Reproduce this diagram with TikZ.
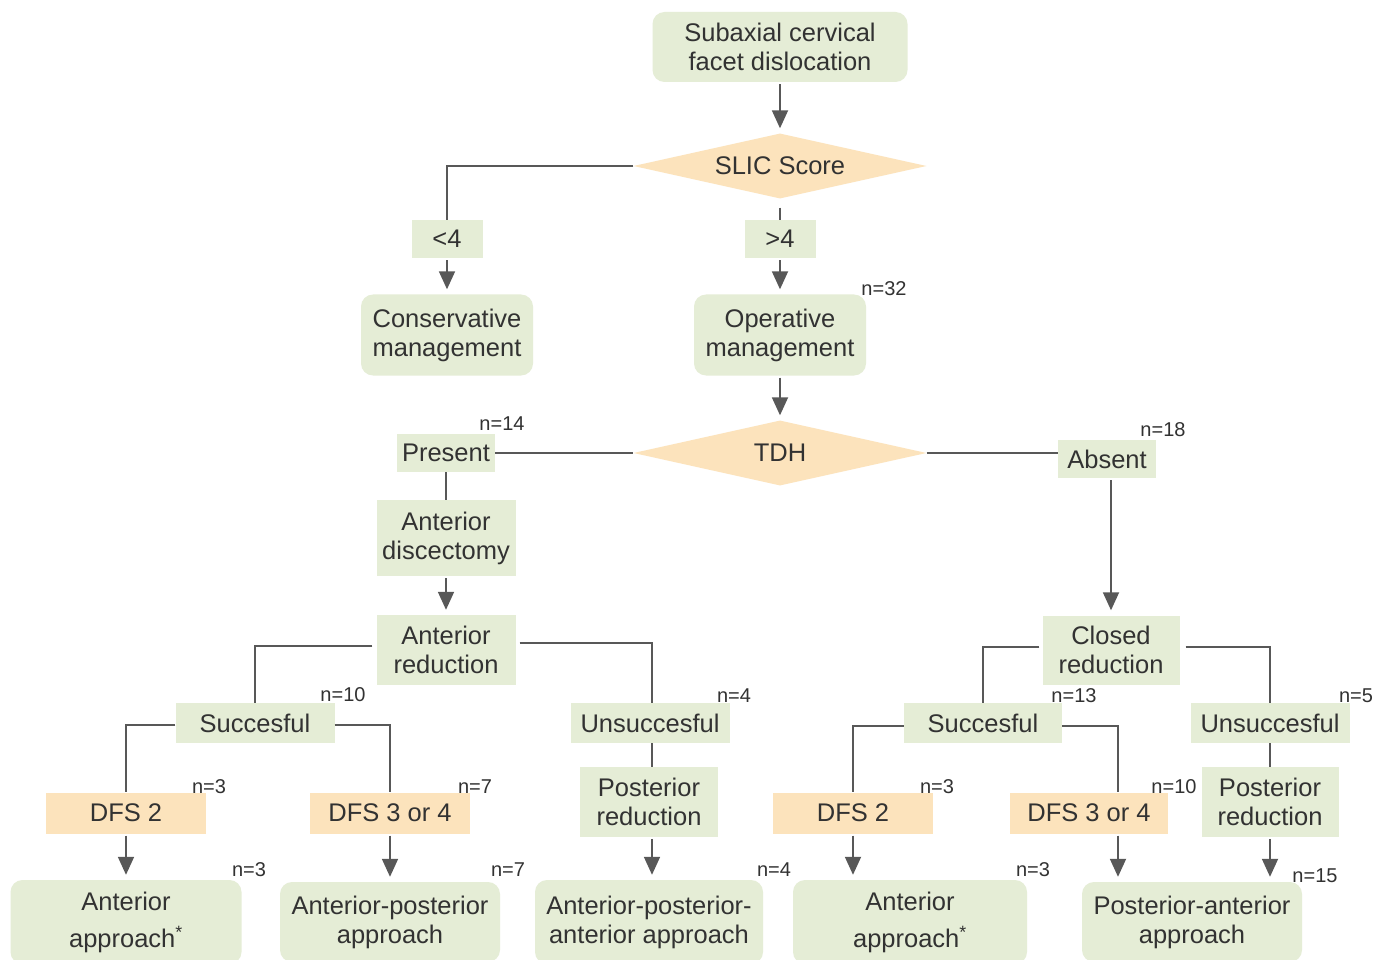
\documentclass[tikz,border=0pt]{standalone}
\usepackage{fontspec}
\setmainfont{Liberation Sans}
\usetikzlibrary{shapes.geometric,arrows.meta}
\definecolor{boxgreen}{RGB}{229,237,214}
\definecolor{peach}{RGB}{252,227,188}
\definecolor{txt}{RGB}{50,50,50}
\definecolor{ln}{RGB}{88,88,88}
\begin{document}
\begin{tikzpicture}[x=1pt,y=-1pt,
  every node/.style={text=txt, font=\fontsize{25.5}{29}\selectfont, align=center, inner sep=0pt},
  rbox/.style={fill=boxgreen, rounded corners=12pt},
  sbox/.style={fill=boxgreen},
  obox/.style={fill=peach, minimum width=160pt, minimum height=41pt},
  dia/.style={diamond, fill=peach, minimum width=293pt, minimum height=65pt, inner sep=0pt, aspect=4.5},
  nlab/.style={font=\fontsize{20}{22}\selectfont},
  conn/.style={draw=ln, line width=1.8pt},
  arr/.style={conn, -{Triangle[width=16pt,length=18pt]}, shorten >=5pt, shorten <=2pt}]
\useasboundingbox (0,0) rectangle (1385,960);
\clip (0,0) rectangle (1385,960);
\fill[white] (0,0) rectangle (1385,960);

% nodes
\node[rbox, minimum width=255pt, minimum height=70pt] (sub) at (780,47) {Subaxial cervical\\facet dislocation};
\node[dia] (slic) at (780,166) {SLIC Score};
\node[sbox, minimum width=71pt, minimum height=38pt] (lt) at (447,239) {<4};
\node[sbox, minimum width=71pt, minimum height=38pt] (gt) at (780,239) {>4};
\node[rbox, minimum width=172pt, minimum height=81pt] (cons) at (447,335) {Conservative\\management};
\node[rbox, minimum width=172pt, minimum height=81pt] (oper) at (780,335) {Operative\\management};
\node[nlab] (n32) at (884,289) {n=32};
\node[dia] (tdh) at (780,453) {TDH};
\node[sbox, minimum width=98pt, minimum height=38pt] (pres) at (446,453) {Present};
\node[nlab] (n14) at (502,424) {n=14};
\node[sbox, minimum width=98pt, minimum height=38pt] (abs) at (1107,459) {Absent};
\node[nlab] (n18) at (1163,430) {n=18};
\node[sbox, minimum width=139pt, minimum height=76pt] (adisc) at (446,538) {Anterior\\discectomy};
\node[sbox, minimum width=139pt, minimum height=70pt] (ared) at (446,650) {Anterior\\reduction};
\node[sbox, minimum width=137pt, minimum height=69pt] (cred) at (1111,650) {Closed\\reduction};

\node[sbox, minimum width=159pt, minimum height=40pt] (succL) at (255,723) {Succesful};
\node[nlab] (n10a) at (343,695) {n=10};
\node[sbox, minimum width=159pt, minimum height=40pt] (unsL) at (650,723) {Unsuccesful};
\node[nlab] (n4a) at (734,696) {n=4};
\node[sbox, minimum width=158pt, minimum height=40pt] (succR) at (983,723) {Succesful};
\node[nlab] (n13) at (1074,696) {n=13};
\node[sbox, minimum width=159pt, minimum height=40pt] (unsR) at (1270,723) {Unsuccesful};
\node[nlab] (n5) at (1356,696) {n=5};

\node[obox] (dfs2L) at (126,813) {DFS 2};
\node[nlab] (n3a) at (209,787) {n=3};
\node[obox] (dfs3L) at (390,813) {DFS 3 or 4};
\node[nlab] (n7a) at (475,787) {n=7};
\node[sbox, minimum width=138pt, minimum height=70pt] (postL) at (649,802) {Posterior\\reduction};
\node[obox] (dfs2R) at (853,813) {DFS 2};
\node[nlab] (n3b) at (937,787) {n=3};
\node[obox, minimum width=158pt] (dfs3R) at (1089,813) {DFS 3 or 4};
\node[nlab] (n10b) at (1174,787) {n=10};
\node[sbox, minimum width=137pt, minimum height=70pt] (postR) at (1270,802) {Posterior\\reduction};

\node[rbox, minimum width=231pt, minimum height=84pt] (aaL) at (126,922) {Anterior\\[8pt]approach\textsuperscript{*}};
\node[nlab] (n3c) at (249,870) {n=3};
\node[rbox, minimum width=220pt, minimum height=80pt] (apL) at (390,922) {Anterior-posterior\\approach};
\node[nlab] (n7b) at (508,870) {n=7};
\node[rbox, minimum width=228pt, minimum height=84pt] (apaL) at (649,922) {Anterior-posterior-\\anterior approach};
\node[nlab] (n4b) at (774,870) {n=4};
\node[rbox, minimum width=234pt, minimum height=84pt] (aaR) at (910,922) {Anterior\\[8pt]approach\textsuperscript{*}};
\node[nlab] (n3d) at (1033,870) {n=3};
\node[rbox, minimum width=220pt, minimum height=80pt] (paR) at (1192,922) {Posterior-anterior\\approach};
\node[nlab] (n15) at (1315,876) {n=15};

% connectors
\draw[arr] (sub.south) -- (slic.north);
\draw[conn] (slic.west) -| (lt.north);
\draw[conn] ([yshift=-9pt]slic.south) -- (gt.north);
\draw[arr] (lt.south) -- (cons.north);
\draw[arr] (gt.south) -- (oper.north);
\draw[arr] (oper.south) -- (tdh.north);
\draw[conn] (pres.east) -- (tdh.west);
\draw[conn] (tdh.east) -- (tdh.east -| abs.west);
\draw[conn] (pres.south) -- (adisc.north);
\draw[arr] (adisc.south) -- (ared.north);
\draw[arr] (cred.north |- abs.south) -- (cred.north);
\draw[conn] ([xshift=-4pt,yshift=4pt]ared.west) -| (succL.north);
\draw[conn] ([xshift=4pt,yshift=7pt]ared.east) -| ([xshift=2pt]unsL.north);
\draw[conn] ([xshift=-3pt,yshift=3pt]cred.west) -| (succR.north);
\draw[conn] ([xshift=6pt,yshift=3pt]cred.east) -| (unsR.north);
\draw[conn] ([yshift=-2pt]succL.west) -| (dfs2L.north);
\draw[conn] ([yshift=-2pt]succL.east) -| (dfs3L.north);
\draw[conn] ([xshift=2pt]unsL.south) -- ([xshift=3pt]postL.north);
\draw[conn] ([yshift=-3pt]succR.west) -| (dfs2R.north);
\draw[conn] ([yshift=-3pt]succR.east) -| ([xshift=29pt]dfs3R.north);
\draw[conn] (unsR.south) -- (postR.north);
\draw[arr] (dfs2L.south) -- (dfs2L.south |- aaL.north);
\draw[arr] (dfs3L.south) -- (dfs3L.south |- apL.north);
\draw[arr] ([xshift=3pt]postL.south) -- ([xshift=3pt]postL.south |- apaL.north);
\draw[arr] (dfs2R.south) -- (dfs2R.south |- aaR.north);
\draw[arr] ([xshift=29pt]dfs3R.south) -- ([xshift=29pt]dfs3R.south |- paR.north);
\draw[arr] (postR.south) -- (postR.south |- paR.north);
\end{tikzpicture}
\end{document}
